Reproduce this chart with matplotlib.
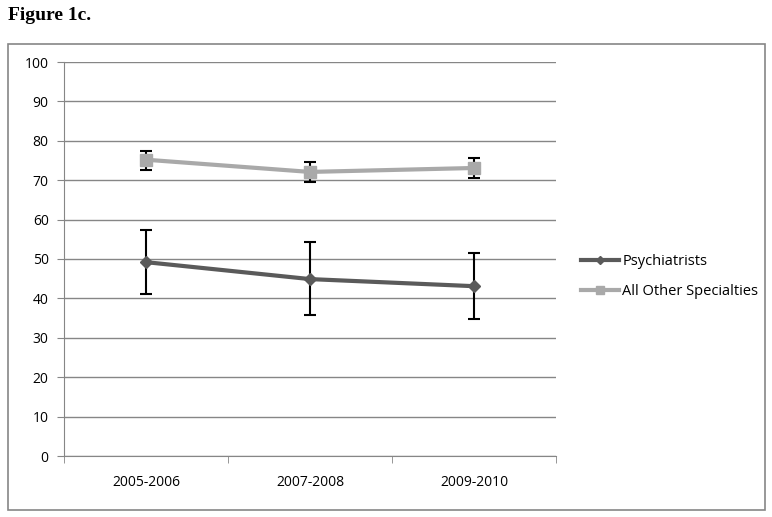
#!/usr/bin/env python3
import matplotlib as mpl
mpl.use('Agg')
import matplotlib.pyplot as plt
from matplotlib.patches import Rectangle
import numpy as np

periods = ['2005-2006', '2007-2008', '2009-2010']
psych = [49.2, 44.9, 43.1]
psych_lo = [41.1, 35.8, 34.8]
psych_hi = [57.4, 54.3, 51.5]
other = [75.2, 72.1, 73.1]
other_lo = [72.6, 69.5, 70.6]
other_hi = [77.5, 74.6, 75.6]

plt.rcParams['font.family'] = ['Open Sans', 'DejaVu Sans']

fig = plt.figure(figsize=(7.72, 5.17), dpi=100)
ax = fig.add_axes([64 / 772, 61 / 517, 492 / 772, 394 / 517])

x = np.arange(len(periods))

def draw(vals, lo, hi, color, marker, ms, label):
    yerr = [np.array(vals) - np.array(lo), np.array(hi) - np.array(vals)]
    ax.errorbar(x, vals, yerr=yerr, fmt='none', ecolor='black',
                elinewidth=1.5, capsize=4, capthick=1.5, zorder=2)
    ax.plot(x, vals, color=color, lw=3, marker=marker, ms=ms,
            label=label, zorder=3)

draw(psych, psych_lo, psych_hi, '#5a5a5a', 'D', 6, 'Psychiatrists')
draw(other, other_lo, other_hi, '#a9a9a9', 's', 8, 'All Other Specialties')

ax.set_xlim(-0.5, 2.5)
ax.set_ylim(0, 100)
ax.set_yticks(np.arange(0, 101, 10))
ax.set_xticks(x)
ax.set_xticklabels(periods)
ax.set_xticks([-0.5, 0.5, 1.5, 2.5], minor=True)
ax.tick_params(axis='x', which='major', length=0, pad=14, labelsize=10)
ax.tick_params(axis='x', which='minor', length=5, color='#868686')
ax.tick_params(axis='y', length=5, color='#868686', labelsize=10, pad=6)
ax.yaxis.grid(True, color='#868686', lw=1)
ax.set_axisbelow(True)
for s in ['top', 'right']:
    ax.spines[s].set_visible(False)
for s in ['left', 'bottom']:
    ax.spines[s].set_color('#868686')

leg = ax.legend(loc='center left', bbox_to_anchor=(1.025, 0.456), frameon=False,
                fontsize=10.5, handlelength=2.6, labelspacing=1.0,
                handletextpad=0.2, markerscale=0.75)

fig.patches.append(Rectangle((8 / 772, 7 / 517), 757 / 772, 466 / 517,
                             transform=fig.transFigure, fill=False,
                             edgecolor='#868686', lw=1.2))
fig.text(8 / 772, 1 - 15 / 517, 'Figure 1c.', family='Liberation Serif',
         weight='bold', fontsize=14, va='center', ha='left')

plt.savefig('out.png', dpi=100)
